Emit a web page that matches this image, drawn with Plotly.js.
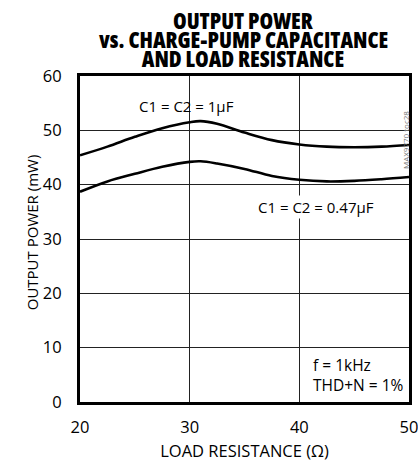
<!DOCTYPE html>
<html><head><meta charset="utf-8">
<script src="https://cdn.plot.ly/plotly-3.0.1.min.js"></script>
<style>body{margin:0;background:#fff}#c{width:418px;height:466px}
.main-svg text{font-stretch:90% !important;}
.main-svg g.annotation[data-index="0"] text,
.main-svg g.annotation[data-index="1"] text,
.main-svg g.annotation[data-index="2"] text{font-stretch:75% !important;}</style>
</head><body><div id="c"></div>
<script>
const loadRes = [20, 22.5, 25, 27.5, 30, 31, 32.5, 35, 37.5, 40, 42.5, 45, 47.5, 50];
const power1uF = [45.4, 47.0, 48.8, 50.4, 51.5, 51.7, 51.2, 49.6, 48.2, 47.4, 47.0, 46.9, 47.0, 47.3];
const power047uF = [38.7, 40.6, 42.0, 43.3, 44.2, 44.3, 43.9, 42.9, 41.6, 40.9, 40.6, 40.7, 41.0, 41.4];
const xTicks = [20, 30, 40, 50];
const yTicks = [0, 10, 20, 30, 40, 50, 60];
const titleLines = ['OUTPUT POWER', 'vs. CHARGE-PUMP CAPACITANCE', 'AND LOAD RESISTANCE'];

const F = '"Open Sans", Roboto, sans-serif';
const lineStyle = {color: '#000', width: 2.6, shape: 'spline', smoothing: 1};
const traces = [
  {x: loadRes, y: power1uF, mode: 'lines', line: lineStyle, hoverinfo: 'skip'},
  {x: loadRes, y: power047uF, mode: 'lines', line: lineStyle, hoverinfo: 'skip'}
];
const titleY = [1.173, 1.113, 1.056];
const titleAnn = titleLines.map((t, i) => ({
  x: 0.496, y: titleY[i], xref: 'paper', yref: 'paper', yanchor: 'middle', text: t,
  showarrow: false, borderpad: 0, font: {family: F, size: 22, weight: 800, color: '#000'}
}));
const layout = {
  width: 418, height: 466,
  margin: {l: 80, r: 9, t: 76, b: 64},
  paper_bgcolor: '#fff', plot_bgcolor: '#fff',
  showlegend: false,
  font: {family: F, color: '#000', size: 16.5},
  xaxis: {
    range: [20, 50], tickvals: xTicks, ticks: '', showgrid: true,
    gridcolor: '#222', gridwidth: 1, zeroline: false,
    showline: true, mirror: true, linecolor: '#000', linewidth: 3,
    tickfont: {family: F, size: 16.5}, ticklabelstandoff: 8, ticklabeloverflow: 'allow',
    title: {text: 'LOAD RESISTANCE (Ω)', font: {family: F, size: 16.5}, standoff: 9}
  },
  yaxis: {
    range: [0, 60], tickvals: yTicks, ticks: '', showgrid: true,
    gridcolor: '#222', gridwidth: 1, zeroline: false,
    showline: true, mirror: true, linecolor: '#000', linewidth: 3,
    tickfont: {family: F, size: 16.5}, ticklabelstandoff: 12, ticklabeloverflow: 'allow'
  },
  annotations: titleAnn.concat([
    {x: -0.182, y: 0.521, xref: 'paper', yref: 'paper', text: 'OUTPUT POWER (mW)', textangle: -90,
     showarrow: false, font: {family: F, size: 15}},
    {x: 29.7, y: 54.5, xref: 'x', yref: 'y', text: 'C1 = C2 = 1µF', showarrow: false,
     font: {family: F, size: 15}},
    {x: 41.5, y: 35.9, xref: 'x', yref: 'y', text: 'C1 = C2 = 0.47µF', showarrow: false,
     font: {family: F, size: 15}, bgcolor: '#fff'},
    {x: 41.2, y: 6.8, xref: 'x', yref: 'y', xanchor: 'left', text: 'f = 1kHz', showarrow: false,
     borderpad: 0, font: {family: F, size: 15.5}},
    {x: 41.2, y: 3.1, xref: 'x', yref: 'y', xanchor: 'left', text: 'THD+N = 1%', showarrow: false,
     borderpad: 0, font: {family: F, size: 15.5}},
    {x: 1.014, y: 0.899, xref: 'paper', yref: 'paper', text: 'MAX9770 toc28', showarrow: false,
     textangle: -90, font: {family: F, size: 8, color: '#777'}}
  ])
};
Plotly.newPlot('c', traces, layout, {displayModeBar: false, staticPlot: true});
</script></body></html>
